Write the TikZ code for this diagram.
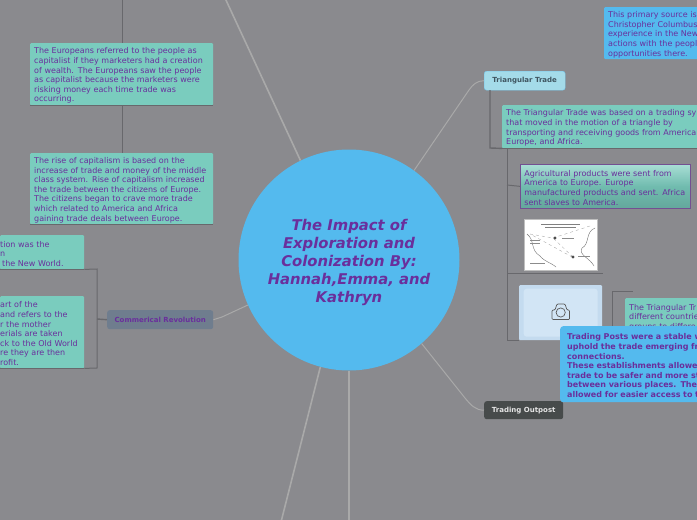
\documentclass[tikz,border=0pt]{standalone}
\usepackage{fontspec}
\setmainfont{DejaVu Sans}
\usetikzlibrary{positioning}
\definecolor{bgGray}{HTML}{8A8A8E}
\definecolor{hubBlue}{HTML}{54BAEE}
\definecolor{noteTeal}{HTML}{7ACCBE}
\definecolor{inkPurple}{HTML}{6A2F9C}
\definecolor{limbGray}{HTML}{A9A9A9}
\definecolor{twigGray}{HTML}{68686C}
\definecolor{triBlue}{HTML}{A4DBE9}
\definecolor{triInk}{HTML}{3F5560}
\definecolor{revSlate}{HTML}{6F7D8E}
\definecolor{postDark}{HTML}{474B4B}
\definecolor{photoOuter}{HTML}{C4DBEF}
\definecolor{photoInnerBlue}{HTML}{D2E5F5}
\begin{document}
\begin{tikzpicture}[
        x=1pt, y=-1pt,
        note/.style={rectangle, rounded corners=1pt, fill=noteTeal, text=inkPurple, anchor=north west, align=left, inner xsep=4pt, inner ysep=0pt, font=\fontsize{8}{9.6}\selectfont, execute at begin node={\rule{0pt}{9pt}}},
        bluenote/.style={note, fill=hubBlue},
        branch/.style={rectangle, rounded corners=2.5pt, anchor=north west, minimum height=19pt, inner sep=0pt, font=\bfseries\fontsize{7}{8}\selectfont},
        limb/.style={limbGray, line width=1.6pt},
        thinlimb/.style={limbGray, line width=1pt},
        twig/.style={twigGray, line width=1pt}
    ]
    \clip (0,0) rectangle (697,520);
    \fill[bgGray] (0,0) rectangle (697,520);

    % hub and main branches
    \coordinate (topLeftEnd) at (225,-2);
    \coordinate (bottomLeftEnd) at (281,522);
    \coordinate (bottomEnd) at (349,522);
    \node[branch, fill=triBlue, draw=hubBlue!60!triBlue, line width=.4pt, text=triInk, minimum width=81pt] (triangular) at (484,71) {Triangular Trade};
    \node[branch, fill=revSlate, text=inkPurple, minimum width=106pt] (commerical) at (107,310) {Commerical Revolution};
    \node[branch, fill=postDark, text=white!90!black, minimum width=79pt, minimum height=18pt] (outpost) at (484,401) {Trading Outpost};
    \node[circle, fill=hubBlue, minimum size=221pt, inner sep=0pt, text=inkPurple, align=center, font=\bfseries\itshape\fontsize{14.8}{18}\selectfont] (hub) at (349,260) {\rule{0pt}{16pt}The Impact of\\Exploration and\\Colonization By:\\Hannah,Emma, and\\Kathryn};

    \draw[limb] (hub.116) -- (topLeftEnd);
    \draw[limb] (hub.255) -- (bottomLeftEnd);
    \draw[limb] (hub.270) -- (bottomEnd);
    \draw[thinlimb] (hub.54.5) -- (469,90) to[out=55, in=180] (triangular.west);
    \draw[thinlimb] (hub.-49.4) -- (465,398) to[out=-50, in=180] (outpost.west);
    \draw[thinlimb] (hub.204.5) -- (222,317) -- (commerical.east);

    % capitalism column
    \node[note, text width=175pt, minimum height=62pt] (creation) at (30,43) {The Europeans referred to the people as\\capitalist if they marketers had a creation\\of wealth. The Europeans saw the people\\as capitalist because the marketers were\\risking money each time trade was\\occurring.};
    \node[note, text width=175pt, minimum height=71pt] (capitalism) at (30,153) {The rise of capitalism is based on the\\increase of trade and money of the middle\\class system. Rise of capitalism increased\\the trade between the citizens of Europe.\\The citizens began to crave more trade\\which related to America and Africa\\gaining trade deals between Europe.};
    \coordinate (creationTop) at (122,-2);
    \draw[twig] (creationTop) -- (creationTop |- creation.north);
    \draw[twig] (creation.south west) -- (creation.south east);
    \draw[twig] (creationTop |- creation.south) -- (creationTop |- capitalism.north);
    \draw[twig] (capitalism.south west) -- (capitalism.south east);

    % commerical revolution bracket
    \node[note, inner xsep=0pt, minimum height=34pt, text width=84pt] (newworld) at (0,235) {tion was the\\n\\\hspace*{2pt}the New World.};
    \node[note, inner xsep=0pt, minimum height=72pt, text width=84pt] (mercantile) at (0,296) {art of the\\and refers to the\\r the mother\\erials are taken\\ck to the Old World\\re they are then\\rofit.};
    \coordinate (bracketTop) at (97,269);
    \coordinate (bracketBottom) at (97,368);
    \draw[twig] (newworld.south east) -- (bracketTop) -- (bracketBottom) -- (mercantile.south east);
    \draw[twig] (newworld.south west) -- (newworld.south east);
    \draw[twig] (mercantile.south west) -- (mercantile.south east);
    \draw[twig, line width=1.4pt] (97,319) -- (commerical.west);

    % primary source
    \node[bluenote, text width=93pt, minimum height=52pt] (primary) at (604,7) {This primary source is\\Christopher Columbus\\experience in the New\\actions with the peopl\\opportunities there.};

    % triangular trade column
    \node[note, text width=210pt, minimum height=43pt] (tradeNote) at (502,105) {The Triangular Trade was based on a trading sy\\that moved in the motion of a triangle by\\transporting and receiving goods from American\\Europe, and Africa.};
    \draw[twig, line width=1.4pt] (490,90) -- (490,148) -- (tradeNote.south west);
    \draw[twig] (tradeNote.south west) -- (tradeNote.south east);
    \draw[twig] (507,148) -- (507,340) -- (519,340);
    \node[note, draw=inkPurple!60!gray, line width=.7pt, rounded corners=0pt, top color=noteTeal!65!white, bottom color=noteTeal!82!black, middle color=noteTeal!92!black, text width=162pt, minimum height=44pt] (goods) at (520,164) {Agricultural products were sent from\\America to Europe. Europe\\manufactured products and sent. Africa\\sent slaves to America.};
    \draw[twig] (507,185) -- (goods.west);

    % map picture
    \node[rectangle, draw=black!25, line width=1pt, fill=white, anchor=north west, minimum width=73pt, minimum height=51pt, inner sep=0pt] (mapImage) at (524,219) {};
    \draw[twig] (507,273) -- (603,273);
    \draw[black!55, line width=.4pt] (527,234) .. controls (535,240) and (530,250) .. (540,256) .. controls (545,262) and (550,262) .. (556,267);
    \draw[black!55, line width=.4pt] (595,228) .. controls (585,232) and (590,244) .. (582,248) .. controls (578,255) and (590,258) .. (594,266);
    \draw[black!40, line width=.3pt, dashed] (530,234) -- (553,238) -- (574,258) -- cycle;
    \draw[black!40, line width=.3pt, dashed] (553,238) -- (590,226);
    \fill[black!70] (555,238) circle (1.6pt) (573,257) circle (1.6pt);
    \draw[black!50, line width=.7pt] (541,224) -- (580,224) (545,227) -- (576,227);
    \draw[black!45, line width=.6pt] (530,240) -- (540,240) (530,243) -- (540,243) (562,238) -- (574,238) (578,256) -- (590,256) (530,263) -- (545,263);

    % photo placeholder
    \node[rectangle, rounded corners=1pt, fill=photoOuter, anchor=north west, minimum width=83pt, minimum height=55pt, inner sep=0pt] (photoFrame) at (519,285) {};
    \node[rectangle, rounded corners=3pt, fill=photoInnerBlue, minimum width=74pt, minimum height=48pt, inner sep=0pt] (photoInner) at (photoFrame.center) {};
    \draw[black!65, line width=.7pt, rounded corners=1pt] (552,310) -- (555,310) -- (557,304) -- (565,304) -- (567,310) -- (569.5,310) -- (569.5,319.5) -- (552,319.5) -- cycle;
    \draw[black!65, line width=.7pt] (560.7,312.5) circle (4.6pt);

    \node[note, text width=90pt, minimum height=36pt] (routes) at (625,298) {The Triangular Tr\\different countrie\\groups to differe};
    \coordinate (routesBracket) at (612,291);
    \draw[twig] (612,341) -- (routesBracket) -- (633,291);

    % trading post text
    \node[bluenote, rounded corners=3pt, inner xsep=7pt, text width=150pt, minimum height=76pt, font=\bfseries\fontsize{8}{9.6}\selectfont, execute at begin node={}] (posts) at (560,326) {Trading Posts were a stable w\\uphold the trade emerging fr\\connections.\\These establishments allowe\\trade to be safer and more st\\between various places. Thes\\allowed for easier access to t};
\end{tikzpicture}
\end{document}
